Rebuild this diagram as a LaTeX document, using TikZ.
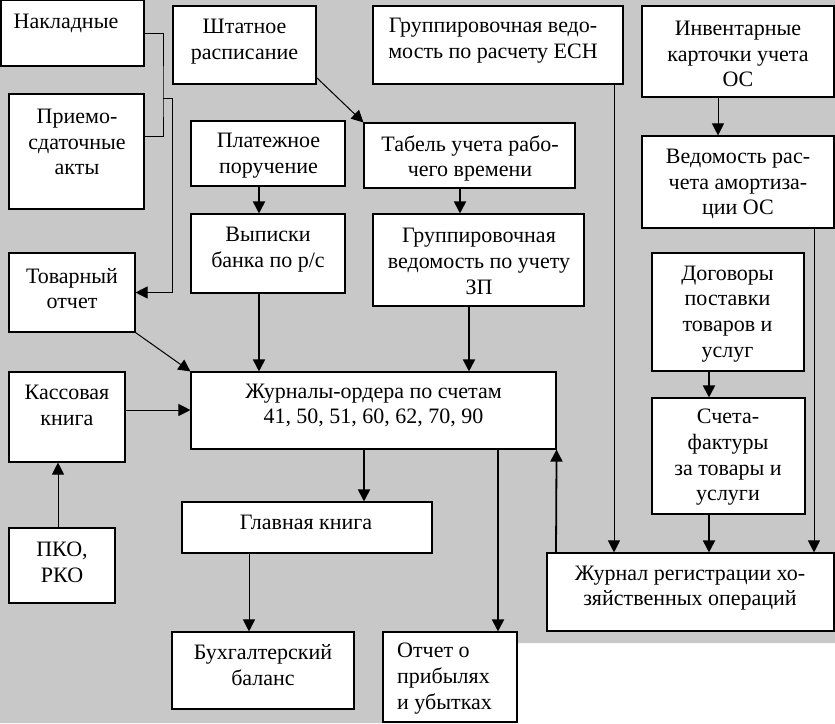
\documentclass[tikz,border=0pt]{standalone}
\usepackage{fontspec}
\setmainfont{Liberation Serif}
\usetikzlibrary{arrows.meta,fit}
\definecolor{bg}{RGB}{200,200,200}
\tikzset{
  boxst/.style={draw=black, fill=white, line width=1.1pt, inner sep=0pt, fit={#1}},
  txt/.style={align=center, font=\fontsize{22pt}{25.7pt}\selectfont, inner sep=0pt, yshift=-2.5pt},
  arr/.style={line width=1pt, -{Triangle[length=12pt,width=12pt]}},
  arrthick/.style={line width=1.8pt, -{Triangle[length=12pt,width=12pt]}},
  thinline/.style={line width=1pt}
}
\newcommand\docbox[8]{%
  \node[boxst={(#2,#3) (#4,#5)}] (#1) {};
  \node[txt] (#1-t) at (#6,#7) {#8};}
\begin{document}
\begin{tikzpicture}[x=1pt,y=-1pt]
\useasboundingbox (0,0) rectangle (835,723);
\fill[white] (0,0) rectangle (835,723);
\fill[bg] (0,0) -- (835,0) -- (835,643) -- (517,643) -- (517,723) -- (0,723) -- cycle;

\docbox{nakl}{1}{0}{144}{66}{66}{21}{Накладные}
\docbox{shtat}{173}{6}{316}{84}{244.5}{39}{Штатное\\расписание}
\docbox{esn}{373}{6}{623}{84}{493}{38.5}{Группировочная ведо-\\мость по расчету ЕСН}
\docbox{inv}{642}{6}{834}{97}{738}{51.5}{Инвентарные\\карточки учета\\ОС}
\docbox{priem}{9}{94}{144}{209}{77}{139.5}{Приемо-\\сдаточные\\акты}
\docbox{plat}{191}{121}{345}{186}{268.5}{153}{Платежное\\поручение}
\docbox{tabel}{364}{123}{575}{188}{470}{156}{Табель учета рабо-\\чего времени}
\docbox{amort}{642}{136}{834}{228}{738}{181.5}{Ведомость рас-\\чета амортиза-\\ции ОС}
\docbox{vyp}{191}{214}{345}{293}{268}{247}{Выписки\\банка по р/с}
\docbox{gvzp}{373}{214}{584}{306}{479}{259}{Группировочная\\ведомость по учету\\ЗП}
\docbox{tov}{9}{253}{135}{332}{72}{286}{Товарный\\отчет}
\docbox{dog}{652}{253}{804}{371}{727.5}{311.5}{Договоры\\поставки\\товаров и\\услуг}
\docbox{kass}{9}{372}{125}{462}{67}{403}{Кассовая\\книга}
\docbox{zhur}{191}{372}{556}{449}{373.5}{403}{Журналы-ордера по счетам\\41, 50, 51, 60, 62, 70, 90}
\docbox{sf}{652}{398}{805}{514}{728}{455}{Счета-\\фактуры\\за товары и\\услуги}
\docbox{glav}{182}{502}{432}{553}{306}{520}{Главная книга}
\docbox{pko}{9}{528}{115}{603}{62}{560}{ПКО,\\РКО}
\docbox{reg}{547}{553}{834}{631}{690}{585.5}{Журнал регистрации хо-\\зяйственных операций}
\docbox{buh}{172}{632}{354}{709}{263}{662.5}{Бухгалтерский\\баланс}
\node[boxst={(383,632) (517,722)}] (otch) {};
\node[txt, align=left, anchor=west] (otch-t) at (397,676) {Отчет о\\прибылях\\и убытках};

% bracket from Накладные / Приемо-сдаточные акты to Товарный отчет
\coordinate (br) at (163,98);
\draw[thinline] (nakl.east) -| (br) |- (priem.north east |- 0,136);
\draw[arr] (br) -- ++(9,0) |- (tov.east);

\draw[arr] ([yshift=7pt]shtat.south east) -- (tabel.north west);
\draw[arr] (tov.south east) -- (zhur.north west);
\draw[arrthick] ([xshift=-9pt]plat.south) -- ([xshift=-9pt]vyp.north);
\draw[arrthick] ([xshift=-9pt]vyp.south) -- ([xshift=-9pt]vyp.south |- zhur.north);
\draw[arrthick] ([xshift=-9.5pt]tabel.south) -- ([xshift=-9.5pt]tabel.south |- gvzp.north);
\draw[arrthick] ([xshift=-9.5pt]gvzp.south) -- ([xshift=-9.5pt]gvzp.south |- zhur.north);
\draw[arr] ([xshift=116pt]esn.south) -- ([xshift=116pt]esn.south |- reg.north);
\draw[arr] ([xshift=-20pt]inv.south) -- ([xshift=-20pt]inv.south |- amort.north);
\draw[arr] ([xshift=76pt]amort.south) -- ([xshift=76pt]amort.south |- reg.north);
\draw[arrthick] ([xshift=-19pt]dog.south) -- ([xshift=-19pt]dog.south |- sf.north);
\draw[arrthick] ([xshift=-19.5pt]sf.south) -- ([xshift=-19.5pt]sf.south |- reg.north);
\draw[arr] ([yshift=7pt]kass.east) -- ([yshift=7pt]kass.east -| zhur.west);
\draw[arr] ([xshift=-4pt]pko.north) -- ([xshift=-4pt]pko.north |- kass.south);
\draw[arrthick] ([xshift=-9.5pt]zhur.south) -- ([xshift=-9.5pt]zhur.south |- glav.north);
\draw[arr] ([xshift=-58pt]glav.south) -- ([xshift=-58pt]glav.south |- buh.north);
\draw[arrthick] ([xshift=124.5pt]zhur.south) -- ([xshift=124.5pt]zhur.south |- otch.north);
\draw[arrthick] ([xshift=-134.5pt]reg.north) -- (zhur.south east);
\end{tikzpicture}
\end{document}
